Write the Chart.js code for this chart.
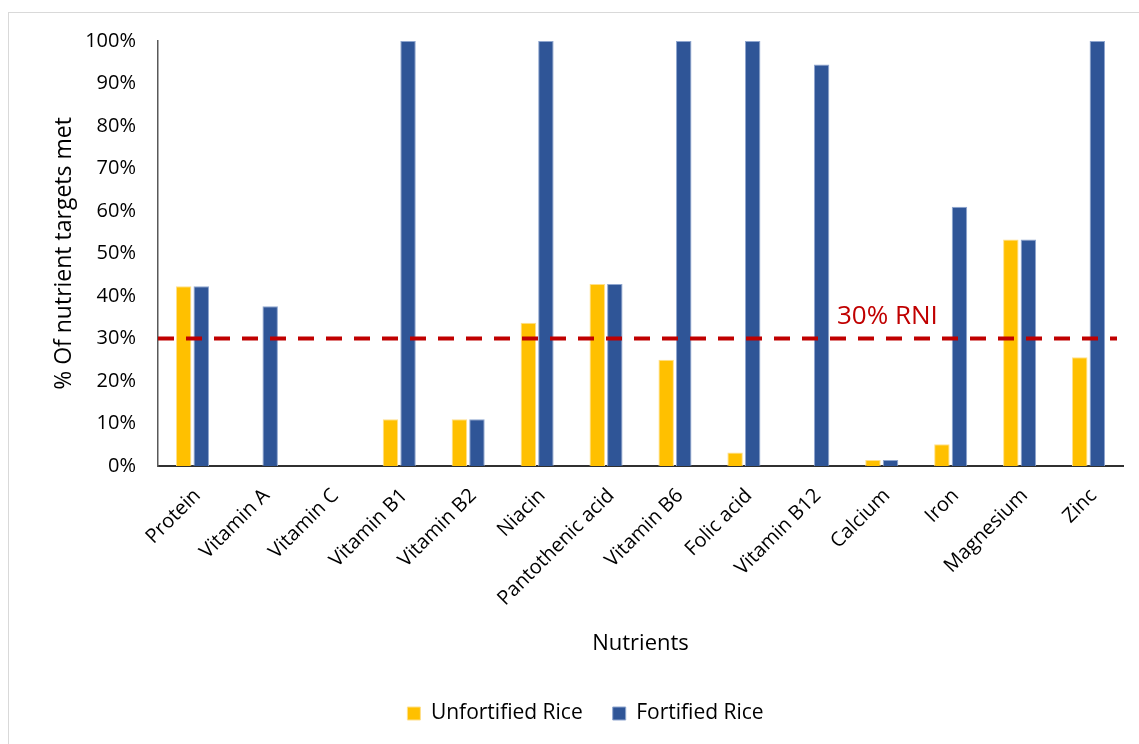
<!DOCTYPE html>
<html>
<head>
<meta charset="utf-8">
<script src="https://cdn.jsdelivr.net/npm/chart.js@4/dist/chart.umd.min.js"></script>
<style>
  html, body { margin: 0; padding: 0; background: #fff; overflow: hidden; }
  #frame {
    position: absolute; left: 8px; top: 12px;
    width: 1140px; height: 760px;
    border: 1px solid #d9d9d9;
  }
  #c { position: absolute; left: 0; top: 0; }
</style>
</head>
<body>
<div id="frame"></div>
<canvas id="c" width="1139" height="744"></canvas>
<script>
/* ================= DATA ================= */
const nutrients = [
  "Protein", "Vitamin A", "Vitamin C", "Vitamin B1", "Vitamin B2", "Niacin",
  "Pantothenic acid", "Vitamin B6", "Folic acid", "Vitamin B12", "Calcium",
  "Iron", "Magnesium", "Zinc"
];
const unfortified = [42.3, 0, 0, 11.0, 11.0, 33.7, 42.8, 25.0, 3.2, 0, 1.4, 5.1, 53.3, 25.6];
const fortified   = [42.3, 37.6, 0, 100, 11.0, 100, 42.8, 100, 100, 94.5, 1.4, 61.0, 53.3, 100];
const yTicks = [0, 10, 20, 30, 40, 50, 60, 70, 80, 90, 100];
const rniLevel = 30;
const rniLabel = "30% RNI";

/* ================= STYLE ================= */
const FONT = "'Open Sans', 'Noto Sans', sans-serif";
const YELLOW = "#FFC000";
const BLUE = "#2F5597";
const RED = "#C00000";

/* dashed RNI reference line + its caption */
const rniLine = {
  id: "rniLine",
  afterDatasetsDraw(chart) {
    const { ctx, chartArea, scales } = chart;
    const y = scales.y.getPixelForValue(rniLevel);
    ctx.save();
    ctx.strokeStyle = RED;
    ctx.lineWidth = 4;
    ctx.setLineDash([16, 12]);
    ctx.beginPath();
    ctx.moveTo(chartArea.left, y);
    ctx.lineTo(chartArea.right - 6, y);
    ctx.stroke();
    ctx.setLineDash([]);
    ctx.fillStyle = RED;
    ctx.font = "26px " + FONT;
    ctx.textBaseline = "bottom";
    ctx.fillText(rniLabel, scales.x.getPixelForValue(9.35), y - 9);
    ctx.restore();
  }
};

new Chart(document.getElementById("c"), {
  type: "bar",
  data: {
    labels: nutrients,
    datasets: [
      { label: "Unfortified Rice", data: unfortified, backgroundColor: YELLOW,
        borderColor: "#FFE08A", borderWidth: 1 },
      { label: "Fortified Rice", data: fortified, backgroundColor: BLUE,
        borderColor: "#8FA6CF", borderWidth: 1 }
    ]
  },
  options: {
    responsive: false,
    animation: false,
    categoryPercentage: 0.51,
    barPercentage: 0.88,
    layout: { padding: { left: 48, top: 41, right: 16, bottom: 10 } },
    plugins: {
      legend: {
        position: "bottom",
        labels: {
          boxWidth: 13, boxHeight: 13, padding: 30,
          color: "#000", font: { family: FONT, size: 21 }
        }
      },
      tooltip: { enabled: false }
    },
    scales: {
      x: {
        grid: { display: false, drawTicks: false },
        border: { color: "#303030", width: 2 },
        ticks: {
          color: "#000", font: { family: FONT, size: 20 },
          minRotation: 45, maxRotation: 45, padding: 18, labelOffset: 5,
          autoSkip: false
        },
        title: {
          display: true, text: "Nutrients", color: "#000",
          font: { family: FONT, size: 22 }, padding: { bottom: 16 }
        },
        afterFit(scale) { scale.height = 207; }
      },
      y: {
        min: 0, max: 100,
        grid: { display: false, drawTicks: false },
        border: { color: "#595959", width: 1.5 },
        afterBuildTicks(scale) { scale.ticks = yTicks.map(v => ({ value: v })); },
        ticks: {
          color: "#000", font: { family: FONT, size: 20 }, padding: 22,
          callback: v => v + "%"
        },
        title: {
          display: true, text: "% Of nutrient targets met", color: "#000",
          font: { family: FONT, size: 23 }, padding: { top: 3 }
        },
        afterFit(scale) { scale.width = 110; }
      }
    }
  },
  plugins: [rniLine]
});
</script>
</body>
</html>
